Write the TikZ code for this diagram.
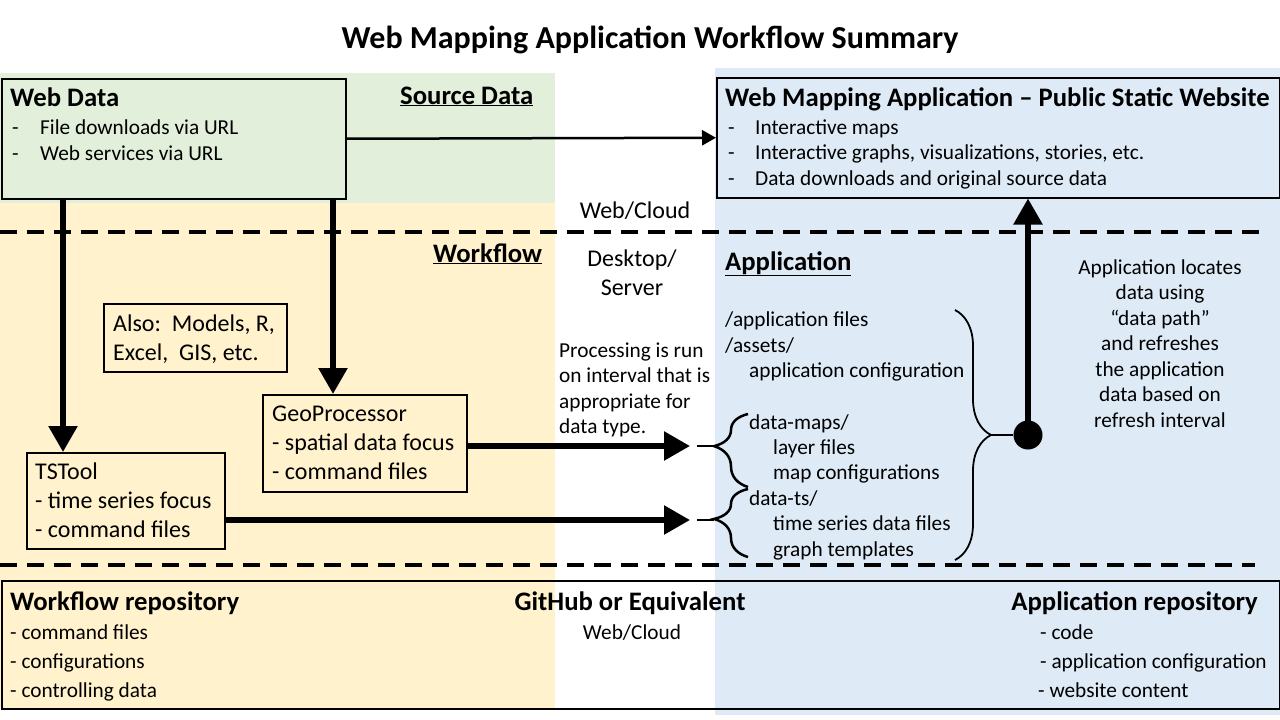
\documentclass[tikz,border=0pt]{standalone}
\usepackage{fontspec}
\setmainfont{Carlito}
\usetikzlibrary{arrows.meta,decorations.pathreplacing}
\definecolor{srcgreen}{HTML}{E2EFDA}
\definecolor{flowyellow}{HTML}{FFF2CC}
\definecolor{appblue}{HTML}{DEEBF7}

\tikzset{
  box/.style={draw, line width=1.5pt, inner sep=0pt, anchor=north west},
  bodytxt/.style={anchor=base west, inner sep=0pt, font=\fontsize{21.3}{25}\selectfont},
  bigtxt/.style={anchor=base west, inner sep=0pt, font=\fontsize{24}{28}\selectfont},
  headtxt/.style={anchor=base west, inner sep=0pt, font=\bfseries\fontsize{26.7}{30}\selectfont},
  titletxt/.style={anchor=base, inner sep=0pt, font=\bfseries\fontsize{32}{36}\selectfont},
  bigarrow/.style={line width=5.5pt, -{Triangle[width=28pt,length=26pt]}},
  thinarrow/.style={line width=2.5pt, -{Triangle[width=15pt,length=14pt]}},
  divider/.style={line width=3.5pt, dash pattern=on 17pt off 10pt},
  brc/.style={decorate, decoration={brace, amplitude=#1, aspect=0.56}, line width=2.5pt},
  brc/.default=34pt
}

\begin{document}
\begin{tikzpicture}[x=1pt,y=-1pt]
  \useasboundingbox (0,0) rectangle (1280,720);
  \fill [white] (0,0) rectangle (1280,720);
  % background bands
  \fill [srcgreen] (0,73) rectangle (555,203);
  \fill [flowyellow] (0,203) rectangle (555,708);
  \fill [appblue] (715,68) rectangle (1280,715);

  \node [titletxt] (title) at (650,48) {Web Mapping Application Workflow Summary};

  % source data
  \node [box, fill=srcgreen, minimum width=344, minimum height=120] (webdata) at (1,78) {};
  \node [headtxt] (webdatahead) at (10,106) {Web Data};
  \foreach \t [count=\i] in {File downloads via URL, Web services via URL} {
    \node [bodytxt] (webdash\i) at (12,108+26*\i) {-};
    \node [bodytxt] (weblist\i) at (40,108+26*\i) {\t};
  }
  \node [headtxt] (srchead) at (400,104) {\underline{Source Data}};

  % public website
  \node [box, fill=appblue, minimum width=563, minimum height=120] (webmap) at (716,77) {};
  \node [headtxt] (webmaphead) at (725,106) {Web Mapping Application – Public Static Website};
  \foreach \t [count=\i] in {Interactive maps, {Interactive graphs, visualizations, stories, etc.}, Data downloads and original source data} {
    \node [bodytxt] (mapdash\i) at (728,108.5+25.5*\i) {-};
    \node [bodytxt] (maplist\i) at (755,108.5+25.5*\i) {\t};
  }
  \draw [thinarrow] (webdata.east) -- (webmap.west);

  % dividers
  \draw [divider] (0,232) -- (1260,232);
  \draw [divider] (0,565) -- (1255,565);
  \node [bigtxt, anchor=base] (cloudtop) at (635,218) {Web/Cloud};
  \node [bigtxt, anchor=base] (desktop1) at (632,266) {Desktop/};
  \node [bigtxt, anchor=base] (desktop2) at (632,295) {Server};

  % workflow
  \node [headtxt] (flowhead) at (433,262) {\underline{Workflow}};
  \node [box, minimum width=183, minimum height=68] (also) at (103,303) {};
  \node [bigtxt] (also1) at (113,331) {Also:\ \ Models, R,};
  \node [bigtxt] (also2) at (113,360) {Excel,\ \ GIS, etc.};

  \node [box, minimum width=204, minimum height=97] (geo) at (262,394) {};
  \foreach \t [count=\i] in {GeoProcessor, - spatial data focus, - command files}
    \node [bigtxt] (geo\i) at (272,392+29*\i) {\t};

  \node [box, minimum width=198, minimum height=96] (tstool) at (26,452) {};
  \foreach \t [count=\i] in {TSTool, - time series focus, - command files}
    \node [bigtxt] (ts\i) at (35,450+29*\i) {\t};

  \draw [bigarrow] (webdata.south -| 63,0) -- (tstool.north -| 63,0);
  \draw [bigarrow] (webdata.south -| 333,0) -- (geo.north -| 333,0);

  \foreach \t [count=\i] in {Processing is run, on interval that is, appropriate for, data type.}
    \node [bodytxt] (proc\i) at (559,331.5+25.5*\i) {\t};

  \coordinate (geoin) at (690,446);
  \coordinate (tsin) at (690,520);
  \draw [bigarrow] (geo.east |- geoin) -- (geoin);
  \draw [bigarrow] (tstool.east |- tsin) -- (tsin);

  % application
  \node [headtxt] (apphead) at (725,270) {\underline{Application}};
  \node [bodytxt] (appfiles) at (725,326) {/application files};
  \node [bodytxt] (assets) at (725,352) {/assets/};
  \node [bodytxt] (appconf) at (749,377) {application configuration};
  \node [bodytxt] (maps) at (749,429) {data-maps/};
  \node [bodytxt] (layers) at (773,454) {layer files};
  \node [bodytxt] (mapconf) at (773,479) {map configurations};
  \node [bodytxt] (tsdir) at (749,505) {data-ts/};
  \node [bodytxt] (tsfiles) at (773,530) {time series data files};
  \node [bodytxt] (graphs) at (773,556) {graph templates};

  \draw [brc] (748,487) -- (748,414);
  \draw [brc] (748,557) -- (748,489);
  \draw [line width=2.5pt] (697,446) -- (714,446);
  \draw [line width=2.5pt] (697,520) -- (714,520);
  \draw [brc=36pt, decoration={aspect=0.5}, line width=1.8pt] (955,310) -- (955,560);

  \node [circle, fill=black, minimum size=29pt, inner sep=0pt] (dot) at (1028,435) {};
  \coordinate (apptip) at (991,435);
  \draw [line width=1.8pt] (apptip) -- (dot);
  \draw [bigarrow] (dot.center) -- (dot |- webmap.south);

  \foreach \t [count=\i] in {Application locates, data using, “data path”, and refreshes, the application, data based on, refresh interval}
    \node [bodytxt, anchor=base] (locate\i) at (1160,248.5+25.5*\i) {\t};

  % repositories
  \node [box, minimum width=1278, minimum height=128] (repo) at (1,580) {};
  \node [headtxt] (flowrepo) at (10,610) {Workflow repository};
  \foreach \t [count=\i] in {- command files, - configurations, - controlling data}
    \node [bodytxt] (flowrepo\i) at (10,610+29*\i) {\t};
  \node [headtxt, anchor=base] (github) at (630,610) {GitHub or Equivalent};
  \node [bodytxt, anchor=base] (cloudbottom) at (632,639) {Web/Cloud};
  \node [headtxt, anchor=base east] (apprepo) at (1258,610) {Application repository};
  \node [bodytxt] (apprepo1) at (1040,639) {- code};
  \node [bodytxt] (apprepo2) at (1040,668) {- application configuration};
  \node [bodytxt] (apprepo3) at (1038,697) {- website content};
\end{tikzpicture}
\end{document}
